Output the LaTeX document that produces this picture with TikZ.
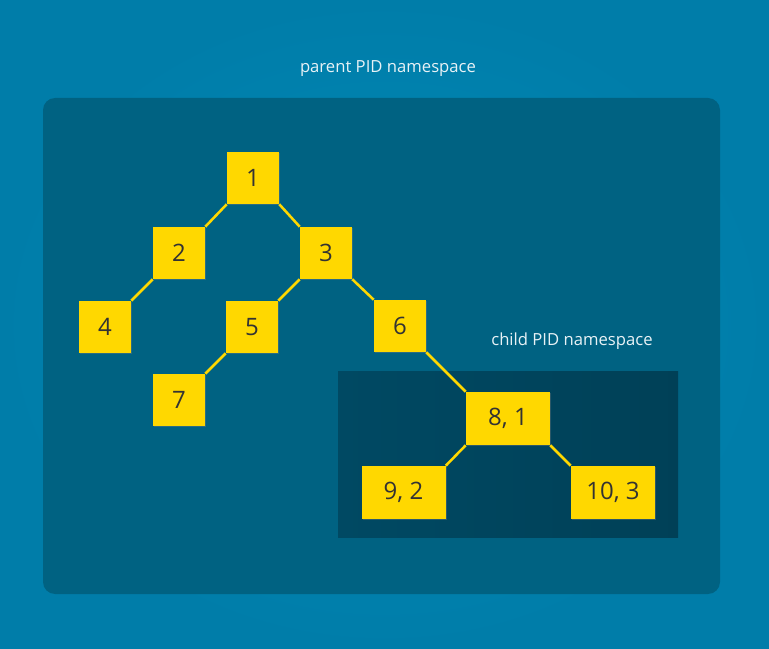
\documentclass[tikz,border=0pt]{standalone}
\usepackage{fontspec}
\setmainfont{Open Sans}
\usetikzlibrary{shadows}
\definecolor{bgcenter}{HTML}{008BB8}
\definecolor{bgedge}{HTML}{007DA9}
\definecolor{parentns}{HTML}{006282}
\definecolor{childns}{HTML}{004963}
\definecolor{pidyellow}{HTML}{FFD800}
\definecolor{pidtext}{HTML}{333333}
\definecolor{nstext}{HTML}{E8F2F6}

\begin{document}
\begin{tikzpicture}[x=0.75pt,y=-0.75pt,
    pid/.style={fill=pidyellow, text=pidtext, inner sep=0pt, minimum width=39pt, minimum height=39pt,
        font=\fontsize{18}{20}\selectfont, drop shadow={opacity=0.35, shadow xshift=0.8pt, shadow yshift=-0.8pt}},
    pidwide/.style={pid, minimum width=63pt, minimum height=39.75pt},
    edge/.style={draw=pidyellow, line width=1.9pt},
    nslabel/.style={text=nstext, font=\fontsize{12.5}{14}\selectfont}]
        % background and the two namespaces
        \shade[inner color=bgcenter, outer color=bgedge] (0,0) rectangle (769,649);
        \useasboundingbox (0,0) rectangle (769,649);
        \fill[parentns, rounded corners=9pt] (43,98) rectangle (720,594);
        \shade[left color=childns, right color=childns!88!black] (338,372) rectangle (678,538);
        \node[nslabel] (parentlbl) at (388,69) {parent PID namespace};
        \node[nslabel] (childlbl) at (572,341) {child PID namespace};
        % processes
        \node[pid] (p1) at (253,178) {1};
        \node[pid] (p2) at (179,253) {2};
        \node[pid] (p3) at (326,253) {3};
        \node[pid] (p4) at (105,327) {4};
        \node[pid] (p5) at (252,327) {5};
        \node[pid] (p6) at (400,326) {6};
        \node[pid] (p7) at (179,400) {7};
        \node[pidwide] (p8) at (508,418.5) {8, 1};
        \node[pidwide] (p9) at (403.5,492.5) {9, 2};
        \node[pidwide] (p10) at (613,492.5) {10, 3};
        % parent to child links
        \foreach \a/\b in {p1/p2, p2/p4, p3/p5, p5/p7, p8/p9}{
            \draw[edge] (\a.south west) -- (\b.north east);
        }
        \foreach \a/\b in {p1/p3, p3/p6, p6/p8, p8/p10}{
            \draw[edge] (\a.south east) -- (\b.north west);
        }
\end{tikzpicture}
\end{document}
